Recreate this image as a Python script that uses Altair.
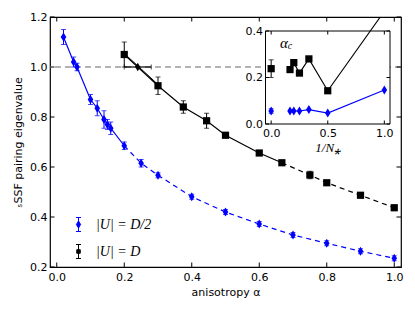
import altair as alt
import pandas as pd

# ---------------- main panel data ----------------
alpha_half = [0.02, 0.05, 0.06, 0.10, 0.12, 0.14, 0.15, 0.16, 0.20, 0.25, 0.30, 0.40, 0.50, 0.60, 0.70, 0.80, 0.90, 1.00]
eig_half = [1.12, 1.02, 1.00, 0.87, 0.835, 0.79, 0.77, 0.755, 0.685, 0.615, 0.567, 0.481, 0.42, 0.372, 0.328, 0.295, 0.263, 0.235]
err_half = [0.03, 0.02, 0.015, 0.02, 0.03, 0.035, 0.02, 0.025, 0.015, 0.015, 0.01, 0.01, 0.01, 0.01, 0.01, 0.01, 0.01, 0.01]

alpha_full = [0.20, 0.30, 0.375, 0.444, 0.50, 0.60, 0.667, 0.75, 0.80, 0.90, 1.00]
eig_full = [1.05, 0.925, 0.84, 0.785, 0.727, 0.656, 0.617, 0.568, 0.537, 0.487, 0.437]
err_full = [0.05, 0.035, 0.025, 0.03, 0.01, 0.01, 0.008, 0.015, 0.008, 0.01, 0.01]

cross_alpha = [0.24]
cross_eig = [1.0]
cross_lo = [0.20]
cross_hi = [0.28]

fit_alpha = [0.205, 0.30]
fit_eig = [1.048, 0.93]

threshold = [1.0]

series_names = ["|U| = D/2", "|U| = D"]

x_ticks = [0.0, 0.2, 0.4, 0.6, 0.8, 1.0]
y_ticks = [0.2, 0.4, 0.6, 0.8, 1.0, 1.2]

# ---------------- inset data ----------------
inv_n = [1 / 6, 0.2, 0.25, 1 / 3, 0.5, 1.0]
ac_full = [0.234, 0.264, 0.219, 0.28, 0.143, 0.485]
ac_half = [0.056, 0.056, 0.056, 0.062, 0.047, 0.146]
ac_half_err = [0.008, 0.008, 0.008, 0.008, 0.008, 0.008]
inf_x = [0.0]
inf_full = [0.238]
inf_full_err = [0.038]
inf_half = [0.056]
inf_half_err = [0.01]

inset_x_ticks = [0.0, 0.5, 1.0]
inset_y_ticks = [0.0, 0.2, 0.4]

BLUE = "#0000ff"
DIAMOND = "M0,-1L0.62,0L0,1L-0.62,0Z"
SQUARE = "M-1,-1L1,-1L1,1L-1,1Z"
DIAMOND_EB = "M0,-1L0,1M-0.36,-1L0.36,-1M-0.36,1L0.36,1M0,-0.5L0.3,0L0,0.5L-0.3,0Z"
SQUARE_EB = "M0,-1L0,1M-0.36,-1L0.36,-1M-0.36,1L0.36,1M-0.25,-0.25L0.25,-0.25L0.25,0.25L-0.25,0.25Z"


def with_err(xs, vs, es):
    return pd.DataFrame({"a": xs, "v": vs,
                         "lo": [v - e for v, e in zip(vs, es)],
                         "hi": [v + e for v, e in zip(vs, es)]})


half = with_err(alpha_half, eig_half, err_half)
full = with_err(alpha_full, eig_full, err_full)
cross = pd.DataFrame({"a": cross_alpha, "v": cross_eig, "lo": cross_lo, "hi": cross_hi})
fit = pd.DataFrame({"a": fit_alpha, "v": fit_eig})
hline = pd.DataFrame({"v": threshold})
xt = pd.DataFrame({"t": x_ticks})
yt = pd.DataFrame({"t": y_ticks})

xs = alt.Scale(domain=[-0.02, 1.02], nice=False, zero=False)
ys = alt.Scale(domain=[0.2, 1.2], nice=False, zero=False)
x_axis = alt.Axis(values=x_ticks, format=".1f", domain=False, ticks=False, grid=False,
                  labelPadding=4, titlePadding=4)
y_axis = alt.Axis(values=y_ticks, format=".1f", domain=False, ticks=False, grid=False,
                  labelPadding=3, titlePadding=6)
XT = "anisotropy α"
YT = "ₛSSF pairing eigenvalue"


def X(f):
    return alt.X(f, type="quantitative", scale=xs, axis=x_axis, title=XT)


def Y(f):
    return alt.Y(f, type="quantitative", scale=ys, axis=y_axis, title=YT)


main_layers = []
main_layers.append(alt.Chart(hline).mark_rule(color="#9a9a9a", strokeDash=[6, 4], strokeWidth=1.5)
                   .encode(y=Y("v")))

main_layers.append(alt.Chart(half).transform_filter("datum.a <= 0.2")
                   .mark_line(color=BLUE, strokeWidth=1.2).encode(x=X("a"), y=Y("v")))
main_layers.append(alt.Chart(half).transform_filter("datum.a >= 0.2")
                   .mark_line(color=BLUE, strokeWidth=1.2, strokeDash=[5, 4]).encode(x=X("a"), y=Y("v")))
main_layers.append(alt.Chart(full).transform_filter("datum.a <= 0.67")
                   .mark_line(color="black", strokeWidth=1.2).encode(x=X("a"), y=Y("v")))
main_layers.append(alt.Chart(full).transform_filter("datum.a >= 0.66")
                   .mark_line(color="black", strokeWidth=1.2, strokeDash=[5, 4]).encode(x=X("a"), y=Y("v")))
main_layers.append(alt.Chart(fit).mark_line(color="black", strokeWidth=1.0).encode(x=X("a"), y=Y("v")))

for df, col, shape, size in [(half, BLUE, DIAMOND, 81), (full, "black", SQUARE, 52)]:
    main_layers.append(alt.Chart(df).mark_rule(color=col, strokeWidth=1)
                       .encode(x=X("a"), y=Y("lo"), y2=alt.Y2("hi")))
    for f in ["lo", "hi"]:
        main_layers.append(alt.Chart(df).mark_tick(orient="horizontal", size=5, thickness=1, color=col)
                           .encode(x=X("a"), y=Y(f)))
    main_layers.append(alt.Chart(df).mark_point(shape=shape, filled=True, size=size, color=col, opacity=1)
                       .encode(x=X("a"), y=Y("v")))

# crossing point with horizontal error bar
main_layers.append(alt.Chart(cross).mark_rule(color="black", strokeWidth=1.2)
                   .encode(x=X("lo"), x2=alt.X2("hi"), y=Y("v")))
for f in ["lo", "hi"]:
    main_layers.append(alt.Chart(cross).mark_tick(orient="vertical", size=5, thickness=1, color="black")
                       .encode(x=X(f), y=Y("v")))
main_layers.append(alt.Chart(cross).mark_point(shape=DIAMOND, filled=True, size=72, color="black", opacity=1)
                   .encode(x=X("a"), y=Y("v")))

# inward ticks on all four sides
main_layers.append(alt.Chart(xt).mark_rule(color="black").encode(x=X("t"), y=alt.value(250), y2=alt.value(245.5)))
main_layers.append(alt.Chart(xt).mark_rule(color="black").encode(x=X("t"), y=alt.value(0), y2=alt.value(4.5)))
main_layers.append(alt.Chart(yt).mark_rule(color="black").encode(y=Y("t"), x=alt.value(0), x2=alt.value(4.5)))
main_layers.append(alt.Chart(yt).mark_rule(color="black").encode(y=Y("t"), x=alt.value(351), x2=alt.value(346.5)))

# legend
leg = alt.Legend(title=None, orient="none", legendX=21, legendY=200, symbolSize=196,
                 labelFont="Liberation Serif", labelFontStyle="italic", labelFontSize=14,
                 labelColor="black", labelOffset=10, rowPadding=8, symbolStrokeWidth=1,
                 symbolOpacity=1, padding=0)
legend_df = pd.DataFrame({"series": series_names})
main_layers.append(alt.Chart(legend_df).mark_point(filled=True, opacity=0).encode(
    shape=alt.Shape("series:N", scale=alt.Scale(domain=series_names, range=[DIAMOND_EB, SQUARE_EB]), legend=leg),
    fill=alt.Fill("series:N", scale=alt.Scale(domain=series_names, range=[BLUE, "black"]), legend=leg),
    stroke=alt.Stroke("series:N", scale=alt.Scale(domain=series_names, range=[BLUE, "black"]), legend=leg),
))

main = alt.layer(*main_layers)

# ---------------- inset ----------------
ixs = alt.Scale(domain=[-0.05, 1.05], range=[215.5, 340], nice=False, zero=False)
iys = alt.Scale(domain=[0.0, 0.4], range=[107, 14], nice=False, zero=False)
ix_axis = alt.Axis(orient="bottom", offset=-143, values=inset_x_ticks, format=".1f", domain=False,
                   ticks=False, grid=False, labelPadding=3, titlePadding=3,
                   titleFont="Liberation Serif", titleFontStyle="italic", titleFontSize=13)
iy_axis = alt.Axis(orient="left", offset=-215.5, values=inset_y_ticks, format=".1f", domain=False,
                   ticks=False, grid=False, labelPadding=3)
IXT = "1/N⁎"


def IX(f):
    return alt.X(f, type="quantitative", scale=ixs, axis=ix_axis, title=IXT)


def IY(f):
    return alt.Y(f, type="quantitative", scale=iys, axis=iy_axis, title=None)


def IXD(d):
    return alt.XDatum(d, type="quantitative", scale=ixs, axis=ix_axis, title=IXT)


def IYD(d):
    return alt.YDatum(d, type="quantitative", scale=iys, axis=iy_axis, title=None)


ifull = pd.DataFrame({"n": inv_n, "v": ac_full})
ihalf = with_err(inv_n, ac_half, ac_half_err).rename(columns={"a": "n"})
iinf_full = with_err(inf_x, inf_full, inf_full_err).rename(columns={"a": "n"})
iinf_half = with_err(inf_x, inf_half, inf_half_err).rename(columns={"a": "n"})
ixt = pd.DataFrame({"t": inset_x_ticks})
iyt = pd.DataFrame({"t": inset_y_ticks})
one = pd.DataFrame({"k": [0]})

inset_layers = []
inset_layers.append(alt.Chart(one).mark_rect(fill="white", stroke="black", strokeWidth=1).encode(
    x=IXD(-0.05), x2=alt.X2Datum(1.05), y=IYD(0.0), y2=alt.Y2Datum(0.4)))

inset_layers.append(alt.Chart(ifull).mark_line(color="black", strokeWidth=1.1, clip=True)
                    .encode(x=IX("n"), y=IY("v")))
inset_layers.append(alt.Chart(ifull).mark_point(shape=SQUARE, filled=True, size=52, color="black",
                                                opacity=1, clip=True)
                    .encode(x=IX("n"), y=IY("v")))
inset_layers.append(alt.Chart(ihalf).mark_line(color=BLUE, strokeWidth=1.1).encode(x=IX("n"), y=IY("v")))
inset_layers.append(alt.Chart(ihalf).mark_rule(color=BLUE).encode(x=IX("n"), y=IY("lo"), y2=alt.Y2("hi")))
inset_layers.append(alt.Chart(ihalf).mark_point(shape=DIAMOND, filled=True, size=81, color=BLUE, opacity=1)
                    .encode(x=IX("n"), y=IY("v")))

for df, col, shape, size in [(iinf_full, "black", SQUARE, 52), (iinf_half, BLUE, DIAMOND, 81)]:
    inset_layers.append(alt.Chart(df).mark_rule(color=col).encode(x=IX("n"), y=IY("lo"), y2=alt.Y2("hi")))
    for f in ["lo", "hi"]:
        inset_layers.append(alt.Chart(df).mark_tick(orient="horizontal", size=5, thickness=1, color=col)
                            .encode(x=IX("n"), y=IY(f)))
    inset_layers.append(alt.Chart(df).mark_point(shape=shape, filled=True, size=size, color=col, opacity=1)
                        .encode(x=IX("n"), y=IY("v")))

# inward ticks of the inset
inset_layers.append(alt.Chart(ixt).mark_rule(color="black", y2Offset=-3.5)
                    .encode(x=IX("t"), y=IYD(0.0), y2=alt.Y2Datum(0.0)))
inset_layers.append(alt.Chart(ixt).mark_rule(color="black", y2Offset=3.5)
                    .encode(x=IX("t"), y=IYD(0.4), y2=alt.Y2Datum(0.4)))
inset_layers.append(alt.Chart(iyt).mark_rule(color="black", x2Offset=3.5)
                    .encode(y=IY("t"), x=IXD(-0.05), x2=alt.X2Datum(-0.05)))
inset_layers.append(alt.Chart(iyt).mark_rule(color="black", x2Offset=-3.5)
                    .encode(y=IY("t"), x=IXD(1.05), x2=alt.X2Datum(1.05)))

# alpha_c label
inset_layers.append(alt.Chart(one).mark_text(text="α", font="Liberation Serif", fontStyle="italic",
                                             fontSize=15, baseline="middle", align="center", color="black")
                    .encode(x=IXD(0.112), y=IYD(0.347)))
inset_layers.append(alt.Chart(one).mark_text(text="c", font="Liberation Serif", fontStyle="italic",
                                             fontSize=10, baseline="middle", align="center", color="black")
                    .encode(x=IXD(0.166), y=IYD(0.336)))

inset = alt.layer(*inset_layers)

chart = (alt.layer(main, inset)
         .resolve_scale(x="independent", y="independent")
         .properties(width=351, height=250,
                     padding={"left": 42, "top": 9, "right": 6, "bottom": 37},
                     autosize=alt.AutoSizeParams(type="none"))
         .configure_view(stroke="black", strokeWidth=1.2)
         .configure_axis(labelFont="DejaVu Sans", labelFontSize=11, labelColor="black",
                         titleFont="DejaVu Sans", titleFontSize=11, titleFontWeight="normal",
                         titleColor="black"))

chart.save("out.html", embed_options={"renderer": "svg", "actions": False})
